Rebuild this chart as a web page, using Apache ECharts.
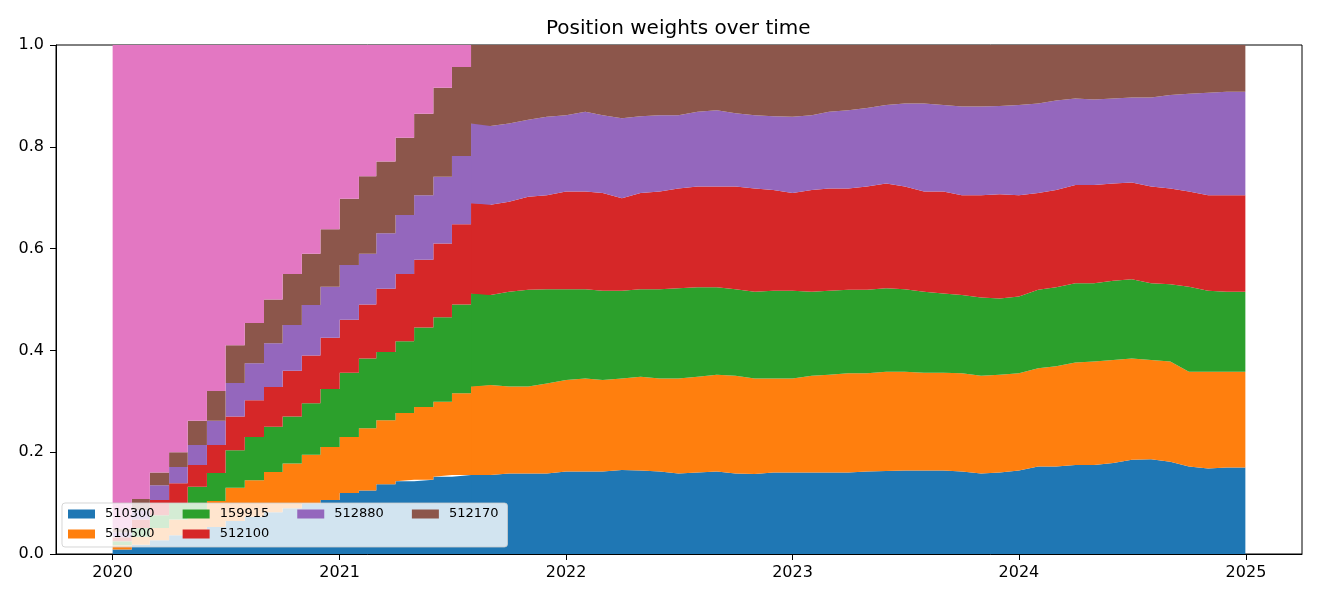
<!DOCTYPE html>
<html>
<head>
<meta charset="utf-8">
<title>Position weights over time</title>
<script src="https://cdn.jsdelivr.net/npm/echarts@6/dist/echarts.min.js"></script>
<style>
  html, body { margin: 0; padding: 0; background: #fff; }
  #chart { width: 1320px; height: 600px; }
</style>
</head>
<body>
<div id="chart"></div>
<script>
// month starts Jan 2020 .. Dec 2024, plus the last day
const months = [];
for (let y = 2020; y <= 2024; y++) {
  for (let m = 1; m <= 12; m++) {
    months.push(y + '-' + String(m).padStart(2, '0') + '-01');
  }
}
months.push('2024-12-31');

// index of the month when the cash runs out (Aug 2021)
const fullyInvested = 19;

const codes = ['510300', '510500', '159915', '512100', '512880', '512170'];
const colors = ['#1f77b4', '#ff7f0e', '#2ca02c', '#d62728', '#9467bd', '#8c564b', '#e377c2'];

// weights per month
const w510300 = [
  .009, .018, .027, .037, .047, .053, .065, .073, .082, .090, .099, .106,
  .120, .125, .137, .143, .146, .152, .155, .155, .155, .158, .158, .158,
  .162, .162, .162, .165, .164, .162, .158, .160, .162, .158, .157, .160,
  .160, .160, .160, .160, .162, .163, .164, .164, .164, .162, .158, .160,
  .164, .172, .172, .175, .175, .179, .185, .186, .181, .172, .168, .170,
  .170
];
const w510500 = [
  .008, .016, .024, .031, .039, .051, .065, .072, .079, .088, .096, .104,
  .110, .122, .126, .134, .143, .147, .161, .174, .177, .171, .171, .177,
  .180, .183, .180, .180, .184, .183, .187, .188, .190, .192, .188, .185,
  .185, .190, .192, .195, .193, .195, .194, .192, .192, .193, .192, .192,
  .191, .193, .197, .201, .203, .202, .199, .195, .197, .186, .190, .188,
  .188
];
const w159915 = [
  .008, .017, .025, .032, .046, .055, .074, .085, .089, .092, .101, .114,
  .126, .137, .134, .141, .156, .166, .174, .183, .177, .186, .190, .185,
  .178, .175, .175, .172, .172, .175, .177, .176, .172, .170, .170, .172,
  .172, .165, .165, .164, .164, .164, .162, .159, .156, .154, .154, .150,
  .151, .154, .155, .156, .154, .156, .156, .151, .152, .167, .159, .157,
  .157
];
const w512100 = [
  .008, .017, .030, .039, .043, .055, .066, .072, .078, .090, .094, .101,
  .104, .106, .124, .132, .133, .145, .158, .177, .177, .177, .183, .185,
  .192, .192, .192, .182, .189, .192, .196, .198, .198, .202, .203, .198,
  .192, .200, .201, .199, .203, .206, .202, .197, .200, .196, .201, .205,
  .199, .190, .191, .193, .193, .191, .190, .190, .188, .187, .188, .190,
  .190
];
const w512880 = [
  .009, .018, .029, .032, .039, .048, .066, .073, .086, .090, .099, .100,
  .108, .100, .109, .116, .127, .131, .134, .157, .155, .154, .151, .154,
  .150, .157, .153, .157, .151, .150, .144, .147, .150, .144, .144, .145,
  .150, .147, .151, .154, .154, .154, .163, .173, .170, .174, .174, .173,
  .177, .176, .176, .170, .168, .167, .167, .175, .184, .192, .201, .203,
  .203
];
const w512170 = [
  .008, .022, .025, .029, .048, .058, .074, .079, .086, .100, .101, .113,
  .130, .152, .141, .152, .160, .175, .175, .154, .159, .154, .147, .141,
  .138, .131, .138, .144, .140, .138, .138, .131, .128, .134, .138, .140,
  .141, .138, .131, .128, .124, .118, .115, .115, .118, .121, .121, .120,
  .118, .115, .109, .105, .107, .105, .103, .103, .098, .096, .094, .092,
  .092
];
const cash = [
  .950, .892, .840, .800, .738, .680, .590, .546, .500, .450, .410, .362,
  .302, .258, .229, .182, .135, .084, .043, 0, 0, 0, 0, 0,
  0, 0, 0, 0, 0, 0, 0, 0, 0, 0, 0, 0,
  0, 0, 0, 0, 0, 0, 0, 0, 0, 0, 0, 0,
  0, 0, 0, 0, 0, 0, 0, 0, 0, 0, 0, 0,
  0
];

const weights = [w510300, w510500, w159915, w512100, w512880, w512170, cash];
const names = codes.concat(['cash']);

const font = 'DejaVu Sans';
const t0 = +new Date(2020, 0, 1);
const t1 = +new Date(2024, 11, 31);
const pad = (t1 - t0) * 0.05;

const toPoints = (arr, from, to) => {
  const out = [];
  for (let k = from; k <= to; k++) out.push([months[k], arr[k]]);
  return out;
};

const series = [];
names.forEach((name, i) => {
  const base = {
    name: name,
    type: 'line',
    symbol: 'none',
    lineStyle: { width: 0 },
    areaStyle: { color: colors[i], opacity: 1 },
    itemStyle: { color: colors[i] }
  };
  // monthly buying: weights jump at each month start
  // (runs one month further, hidden under the holding part, so no seam)
  series.push(Object.assign({}, base, {
    stack: 'buying',
    step: 'end',
    z: 2,
    data: toPoints(weights[i], 0, fullyInvested + 1)
  }));
  // fully invested: weights drift
  series.push(Object.assign({}, base, {
    stack: 'holding',
    z: 3,
    data: toPoints(weights[i], fullyInvested, months.length - 1)
  }));
});

const legendText = {
  fontFamily: font,
  fontSize: 13,
  color: '#000',
  lineHeight: 16,
  padding: [0, 0, 0, 5]
};

const chart = echarts.init(document.getElementById('chart'));
chart.setOption({
  animation: false,
  backgroundColor: '#fff',
  title: {
    text: 'Position weights over time',
    left: 546,
    top: 19,
    padding: 0,
    textStyle: { fontFamily: font, fontSize: 20, fontWeight: 'normal', color: '#000' }
  },
  grid: {
    left: 56, right: 18, top: 45, bottom: 46,
    show: true, borderColor: '#000', borderWidth: 1
  },
  legend: [
    {
      data: ['510300', '159915', '512880', '512170'],
      left: 62, top: 503,
      padding: [3, 9, 25, 6],
      itemWidth: 27, itemHeight: 9, itemGap: 28,
      icon: 'rect',
      z: 4,
      backgroundColor: 'rgba(255,255,255,0.8)',
      borderColor: 'rgba(204,204,204,0.8)',
      borderWidth: 1, borderRadius: 3,
      textStyle: legendText
    },
    {
      data: ['510500', '512100'],
      left: 62, top: 526,
      padding: [0, 0, 0, 6],
      z: 5,
      itemWidth: 27, itemHeight: 9, itemGap: 28,
      icon: 'rect',
      textStyle: legendText
    }
  ],
  xAxis: {
    type: 'time',
    min: t0 - pad,
    max: t1 + pad,
    axisLine: { show: true, lineStyle: { color: '#000', width: 1 } },
    axisTick: { show: true, length: 6, lineStyle: { color: '#000' } },
    axisLabel: {
      formatter: '{yyyy}', color: '#000', fontFamily: font, fontSize: 16, margin: 11,
      showMinLabel: false, showMaxLabel: false
    },
    splitLine: { show: false }
  },
  yAxis: {
    type: 'value',
    min: 0, max: 1, interval: 0.2,
    axisLine: { show: true, lineStyle: { color: '#000', width: 1 } },
    axisTick: { show: true, length: 6, lineStyle: { color: '#000' } },
    axisLabel: {
      formatter: v => v.toFixed(1), color: '#000', fontFamily: font, fontSize: 16, margin: 12
    },
    splitLine: { show: false }
  },
  series: series
});
</script>
</body>
</html>
